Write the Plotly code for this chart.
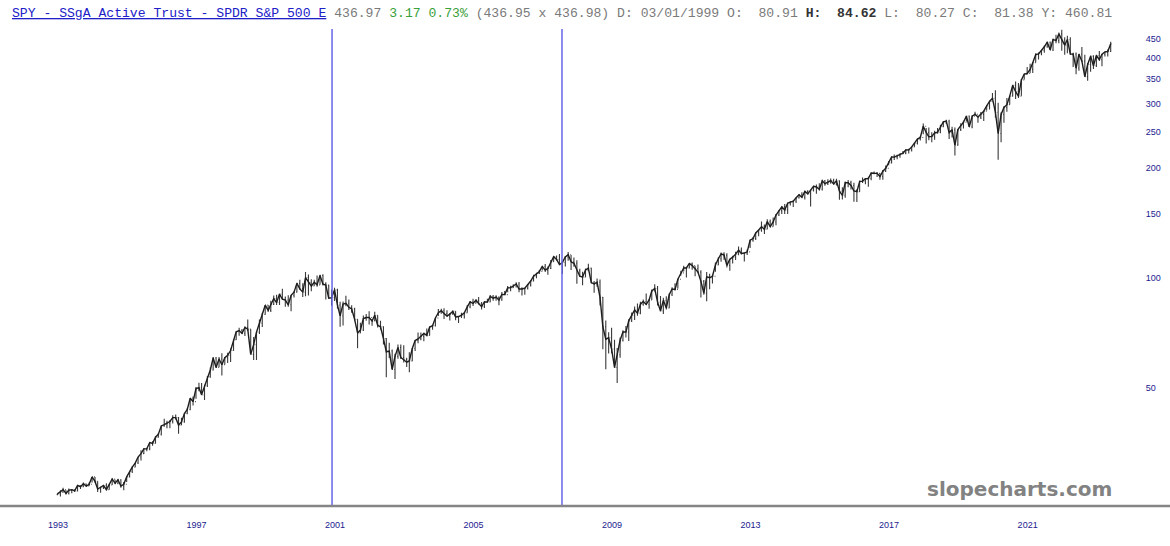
import pandas as pd
import plotly.graph_objects as go

# ---------------- data (monthly, dividend-adjusted SPY) ----------------
first_month = "1993-01"

close = [
    25.6, 25.9, 26.3, 25.7, 26.2, 26.3, 26.1, 27.0, 26.8, 27.3, 26.9, 27.2,
    28.5, 27.7, 26.4, 26.7, 27.0, 26.3, 27.1, 28.1, 27.4, 28.0, 26.9, 27.2,
    28.5, 29.5, 30.3, 31.1, 32.3, 33.0, 34.0, 34.0, 35.4, 35.2, 36.6, 37.3,
    39.3, 39.6, 39.9, 40.4, 41.4, 41.4, 39.5, 40.3, 42.5, 43.6, 46.8, 45.8,
    49.7, 50.0, 47.8, 50.6, 53.6, 55.9, 60.3, 56.8, 59.9, 57.8, 60.4, 61.3,
    63.2, 67.7, 71.1, 71.7, 70.4, 73.1, 72.3, 61.7, 65.6, 70.9, 75.1, 79.3,
    84.1, 81.4, 84.5, 87.7, 85.5, 90.2, 87.3, 86.8, 84.3, 89.5, 91.3, 96.5,
    93.2, 91.3, 100.1, 97.0, 94.9, 97.2, 95.6, 101.4, 96.0, 95.5, 87.9, 88.2,
    92.6, 84.1, 78.7, 84.7, 85.1, 83.0, 82.1, 76.9, 70.6, 71.9, 77.3, 77.8,
    77.8, 76.1, 78.9, 74.1, 73.4, 68.1, 62.7, 63.0, 56.1, 60.9, 64.4, 60.5,
    59.7, 58.7, 59.2, 64.0, 67.3, 68.0, 69.1, 70.4, 69.5, 73.3, 73.9, 77.6,
    80.2, 81.2, 79.8, 78.5, 79.5, 80.9, 78.1, 78.3, 79.0, 80.1, 83.2, 85.9,
    85.1, 86.7, 85.0, 83.3, 85.8, 85.8, 88.9, 87.9, 88.5, 86.9, 90.0, 89.9,
    93.8, 93.9, 94.9, 96.1, 93.1, 93.1, 93.6, 95.6, 97.9, 101.0, 102.7, 104.0,
    107.3, 104.9, 106.0, 110.6, 114.2, 112.2, 108.6, 110.0, 113.9, 115.6, 110.5, 109.5,
    104.5, 100.9, 100.3, 105.0, 106.2, 97.0, 96.1, 97.2, 88.4, 73.4, 67.9, 68.5,
    63.8, 56.8, 61.6, 67.4, 71.0, 71.0, 76.2, 78.8, 81.6, 80.0, 84.6, 86.1,
    84.5, 86.9, 92.0, 93.4, 85.7, 81.1, 86.7, 82.6, 89.8, 93.1, 92.9, 99.0,
    103.1, 106.4, 106.3, 109.4, 107.9, 105.9, 103.6, 97.8, 90.7, 100.5, 100.0, 100.9,
    108.3, 112.7, 116.2, 115.3, 108.1, 112.4, 113.8, 116.0, 118.9, 116.5, 116.8, 117.7,
    126.6, 128.0, 132.6, 135.0, 137.8, 135.7, 142.4, 138.0, 142.1, 148.4, 152.6, 156.2,
    153.3, 159.9, 161.0, 162.0, 165.4, 168.6, 166.0, 172.3, 169.6, 173.6, 177.8, 177.1,
    174.6, 184.1, 180.9, 182.5, 184.4, 180.5, 184.1, 172.6, 168.0, 181.9, 182.0, 178.8,
    172.7, 172.0, 183.3, 183.8, 186.6, 186.8, 193.5, 193.2, 193.0, 189.2, 195.7, 199.3,
    206.2, 213.9, 213.8, 215.8, 218.3, 219.3, 223.6, 223.7, 228.0, 233.1, 239.6, 242.0,
    259.8, 249.7, 243.0, 243.6, 248.9, 250.1, 259.1, 266.9, 268.1, 249.5, 253.9, 230.6,
    254.2, 261.7, 266.4, 276.9, 258.7, 276.5, 280.2, 275.1, 279.8, 285.5, 295.3, 303.7,
    309.6, 283.6, 248.1, 279.6, 292.3, 297.6, 314.0, 336.0, 322.8, 313.9, 347.7, 360.6,
    362.1, 371.6, 387.4, 407.7, 409.9, 419.0, 428.5, 441.0, 420.0, 449.0, 445.3, 464.7,
    447.0, 433.0, 448.5, 409.1, 409.1, 374.8, 408.9, 391.5, 355.0, 383.3, 403.9, 380.1,
    405.6, 395.0, 408.9, 414.9, 415.9, 436.97,
]

high = [
    25.7, 26.2, 26.6, 26.2, 26.5, 26.4, 26.2, 27.1, 27.0, 27.5, 27.3, 27.5,
    28.5, 28.5, 27.7, 26.8, 27.1, 27.4, 27.2, 28.2, 28.0, 28.1, 28.1, 27.6,
    28.5, 29.5, 30.5, 31.2, 32.3, 33.7, 34.2, 34.2, 35.5, 35.7, 36.8, 37.6,
    39.4, 41.1, 40.6, 40.8, 42.0, 42.2, 41.6, 41.4, 42.6, 43.9, 46.8, 47.3,
    50.2, 51.6, 51.5, 50.9, 53.8, 56.8, 60.7, 60.7, 60.7, 62.1, 60.7, 62.3,
    64.0, 67.9, 71.3, 73.0, 72.4, 73.5, 76.8, 72.3, 68.8, 71.1, 76.9, 80.2,
    84.1, 84.2, 86.5, 89.4, 89.8, 90.2, 93.3, 88.8, 89.5, 89.5, 91.8, 96.8,
    98.7, 96.5, 103.7, 102.1, 99.0, 98.7, 101.4, 101.9, 102.2, 97.1, 95.7, 92.9,
    93.8, 93.3, 86.0, 86.1, 89.2, 87.2, 84.0, 82.7, 77.0, 75.3, 78.8, 79.5,
    80.9, 77.1, 80.7, 78.9, 76.2, 73.6, 68.4, 66.4, 63.6, 61.9, 65.6, 65.6,
    65.3, 60.4, 62.5, 64.2, 67.4, 70.8, 70.8, 70.6, 72.6, 73.5, 74.3, 77.6,
    82.1, 82.2, 82.5, 81.5, 80.0, 81.3, 80.9, 78.6, 80.2, 80.2, 84.2, 86.3,
    87.6, 87.3, 88.5, 85.8, 86.4, 87.6, 89.6, 89.7, 89.5, 88.8, 91.4, 91.9,
    94.9, 95.1, 96.0, 97.2, 97.3, 94.2, 93.9, 96.1, 98.2, 101.9, 103.1, 105.0,
    107.5, 109.0, 107.3, 111.8, 114.4, 115.0, 116.1, 111.2, 114.7, 117.6, 115.3, 113.6,
    111.6, 105.8, 103.8, 105.9, 109.2, 106.5, 97.9, 99.5, 98.8, 88.5, 76.3, 70.9,
    72.9, 67.6, 64.2, 68.6, 71.8, 73.8, 77.0, 80.3, 83.4, 85.0, 85.9, 87.2,
    90.5, 87.5, 92.9, 96.0, 94.9, 89.1, 88.1, 88.9, 90.5, 94.1, 96.6, 99.4,
    104.5, 107.8, 106.9, 109.4, 110.0, 107.5, 108.7, 104.8, 98.6, 103.7, 102.5, 101.8,
    110.0, 113.7, 117.2, 117.3, 116.7, 112.4, 114.8, 117.7, 121.7, 120.9, 117.1, 119.5,
    127.1, 129.3, 132.7, 135.0, 142.6, 139.8, 144.5, 144.4, 146.2, 149.4, 153.3, 156.2,
    159.2, 160.6, 162.0, 162.6, 165.6, 169.2, 171.2, 172.4, 173.6, 173.6, 178.5, 180.0,
    181.3, 185.5, 185.0, 186.0, 186.7, 186.4, 186.6, 184.9, 176.8, 183.2, 185.2, 184.1,
    181.9, 174.7, 184.5, 188.0, 187.3, 188.8, 193.8, 195.3, 194.7, 193.1, 197.0, 202.7,
    208.2, 214.6, 217.3, 217.0, 218.9, 222.1, 224.8, 225.4, 228.1, 233.7, 240.5, 243.9,
    264.3, 256.7, 257.7, 250.1, 252.3, 256.8, 262.0, 268.4, 270.6, 270.5, 259.0, 257.6,
    254.6, 264.5, 268.9, 277.2, 277.8, 278.6, 284.6, 276.6, 284.1, 286.7, 296.5, 305.3,
    320.4, 325.7, 301.1, 283.7, 294.5, 310.4, 314.9, 337.4, 344.4, 340.8, 350.0, 361.0,
    377.3, 385.1, 389.4, 411.3, 413.2, 419.5, 431.9, 443.2, 443.2, 449.3, 462.5, 468.8,
    477.0, 454.9, 459.1, 454.7, 412.8, 413.6, 409.9, 428.2, 407.8, 386.7, 405.9, 406.0,
    407.5, 417.4, 408.9, 414.9, 421.0, 442.6,
]

low = [
    25.4, 25.2, 25.8, 25.5, 25.5, 25.7, 25.9, 26.0, 26.4, 26.7, 26.8, 26.9,
    27.5, 27.5, 25.9, 25.8, 26.4, 26.2, 26.3, 27.1, 27.2, 27.2, 26.6, 26.2,
    27.6, 28.4, 29.2, 30.3, 30.9, 31.6, 32.9, 33.5, 33.7, 34.7, 35.2, 36.5,
    37.0, 39.1, 38.7, 38.7, 39.9, 40.9, 37.4, 39.5, 40.1, 42.3, 43.4, 44.7,
    46.6, 48.9, 47.8, 46.3, 50.2, 53.2, 55.7, 56.8, 56.9, 54.0, 57.9, 58.4,
    58.8, 63.1, 67.5, 69.4, 70.2, 69.3, 71.5, 61.7, 59.5, 59.5, 70.1, 73.3,
    79.2, 80.6, 80.6, 84.2, 84.2, 84.2, 87.1, 83.3, 83.3, 81.0, 88.2, 91.1,
    92.7, 88.5, 89.0, 89.4, 91.8, 94.9, 94.5, 95.6, 95.2, 87.2, 87.8, 83.8,
    86.4, 82.4, 73.4, 74.0, 83.5, 81.6, 80.2, 76.2, 64.1, 70.5, 71.5, 76.2,
    74.4, 73.9, 76.1, 73.1, 72.1, 65.6, 53.4, 60.3, 56.1, 52.8, 60.0, 59.9,
    58.6, 57.0, 55.1, 59.1, 63.0, 66.2, 67.4, 67.0, 69.1, 69.5, 72.0, 73.5,
    78.6, 79.7, 77.1, 78.5, 76.3, 79.3, 76.5, 75.2, 77.6, 77.3, 80.2, 82.5,
    83.7, 85.0, 84.4, 81.9, 82.6, 85.5, 85.7, 86.5, 86.5, 84.1, 86.5, 89.7,
    91.3, 91.8, 93.7, 94.0, 91.3, 89.4, 89.8, 92.8, 94.6, 97.6, 99.7, 102.3,
    104.7, 103.7, 101.8, 105.6, 110.6, 111.2, 108.5, 102.3, 107.3, 111.2, 105.0, 107.1,
    96.3, 100.4, 95.3, 100.4, 104.1, 96.4, 91.0, 94.5, 83.9, 63.7, 56.2, 62.0,
    62.1, 56.7, 51.5, 60.4, 66.9, 68.6, 67.1, 75.6, 76.6, 78.7, 79.4, 83.8,
    84.3, 82.2, 87.0, 92.1, 83.9, 81.0, 79.6, 81.8, 82.5, 89.1, 92.3, 93.4,
    101.2, 103.9, 100.2, 106.0, 105.1, 100.9, 102.8, 88.3, 89.8, 86.2, 93.0, 96.4,
    103.8, 108.2, 110.6, 112.0, 106.6, 104.5, 109.3, 111.8, 115.2, 115.7, 110.8, 115.3,
    120.5, 125.5, 126.8, 129.9, 133.6, 131.8, 135.6, 137.6, 138.0, 139.1, 147.5, 149.4,
    149.4, 149.5, 157.7, 156.1, 160.1, 164.7, 166.0, 163.8, 168.9, 156.6, 172.1, 169.7,
    173.3, 173.3, 178.5, 179.2, 180.9, 179.9, 178.9, 163.4, 163.8, 165.6, 176.7, 174.4,
    161.3, 161.1, 172.0, 181.6, 180.2, 177.3, 184.7, 192.0, 188.7, 185.5, 185.5, 194.6,
    203.2, 205.5, 210.1, 210.8, 212.9, 217.7, 217.8, 218.8, 221.5, 228.2, 231.4, 237.5,
    246.8, 233.0, 237.8, 234.9, 238.6, 247.7, 248.3, 257.9, 263.5, 239.6, 242.1, 215.9,
    229.7, 252.0, 255.9, 267.7, 258.5, 256.4, 277.6, 265.3, 271.8, 268.4, 286.7, 288.6,
    308.5, 274.1, 210.4, 234.9, 265.6, 284.7, 297.7, 313.0, 308.1, 310.5, 314.8, 348.8,
    360.2, 363.2, 363.0, 387.9, 395.5, 406.1, 412.7, 425.9, 419.7, 417.2, 438.3, 438.4,
    418.1, 407.4, 411.5, 408.3, 377.3, 360.1, 368.7, 390.4, 354.8, 345.7, 366.2, 372.6,
    377.5, 392.3, 379.0, 402.9, 402.8, 414.6,
]
first_open = 25.5

year_ticks = ["1993", "1997", "2001", "2005", "2009", "2013", "2017", "2021"]
price_ticks = [50, 100, 150, 200, 250, 300, 350, 400, 450]
marker_dates = ["2000-12-20", "2007-08-11"]

header_name = "SPY - SSgA Active Trust - SPDR S&amp;P 500 E"
header_last = "436.97"
header_chg = "3.17 0.73%"
header_mid = "(436.95 x 436.98) D: 03/01/1999 O:\u00a0\u00a080.91"
header_hi = "H:\u00a0\u00a084.62"
header_rest = "L:\u00a0\u00a080.27 C:\u00a0\u00a081.38 Y: 460.81"
watermark = "slopecharts.com"

# ---------------- figure ----------------
dates = pd.date_range(first_month + "-01", periods=len(close), freq="MS") + pd.Timedelta(days=14)
opens = [first_open] + close[:-1]

W, H = 1170, 546
ML, MR, MT, MB = 0, 30, 29, 40
plot_w = W - ML - MR

fig = go.Figure()
fig.add_trace(go.Ohlc(
    x=dates, open=opens, high=high, low=low, close=close,
    increasing_line_color="#3a3a3a", decreasing_line_color="#3a3a3a",
    line_width=1.1, tickwidth=0.3, showlegend=False, hoverinfo="skip",
))
fig.add_trace(go.Scatter(
    x=dates, y=close, mode="lines", line=dict(color="#1e1e1e", width=1.4),
    showlegend=False, hoverinfo="skip",
))

for d in marker_dates:
    fig.add_shape(type="line", x0=d, x1=d, xref="x", y0=0, y1=1, yref="paper",
                  line=dict(color="#6666e8", width=1.5), layer="above")

# bottom axis line spanning full width
fig.add_shape(type="line", x0=0, x1=W / plot_w, xref="paper", y0=0, y1=0, yref="paper",
              line=dict(color="#858585", width=2.5), layer="above")

header = (
    f'<span style="color:#2020c8"><u>{header_name}</u></span> '
    f'<span style="color:#7a7a7a">{header_last}</span> '
    f'<span style="color:#3aa03a">{header_chg}</span> '
    f'<span style="color:#7a7a7a">{header_mid}</span> '
    f'<span style="color:#333333"><b>{header_hi}</b></span> '
    f'<span style="color:#7a7a7a">{header_rest}</span>'
)
fig.add_annotation(text=header, xref="paper", yref="paper", x=10 / plot_w, y=1 + (29 - 13) / (H - MT - MB),
                   xanchor="left", yanchor="middle", showarrow=False,
                   font=dict(family="Liberation Mono, Courier New, monospace", size=13.1, color="#7a7a7a"))

fig.add_annotation(text=f"<b>{watermark}</b>", xref="paper", yref="paper",
                   x=1019 / plot_w, y=(506 - 489) / (H - MT - MB), xanchor="center", yanchor="middle",
                   showarrow=False, font=dict(family="Verdana, DejaVu Sans, sans-serif", size=20, color="#828282"))

fig.update_layout(
    width=W, height=H,
    margin=dict(l=ML, r=MR, t=MT, b=MB, pad=0),
    paper_bgcolor="white", plot_bgcolor="white",
    showlegend=False,
    xaxis=dict(
        type="date", range=["1991-05-20", "2024-04-19"],
        rangeslider=dict(visible=False),
        tickvals=[f"{y}-01-20" for y in year_ticks], ticktext=year_ticks,
        ticks="outside", ticklen=10, tickcolor="rgba(0,0,0,0)",
        tickfont=dict(family="Liberation Sans, Arial, sans-serif", size=9, color="#1a1a90"),
        showgrid=False, zeroline=False, showline=False,
    ),
    yaxis=dict(
        type="log", side="right",
        range=[1.3752, 2.6806],
        tickvals=price_ticks, ticktext=[str(v) for v in price_ticks],
        ticks="outside", ticklen=3, tickcolor="rgba(0,0,0,0)",
        tickfont=dict(family="Liberation Sans, Arial, sans-serif", size=9, color="#1a1a90"),
        showgrid=False, zeroline=False, showline=False,
    ),
)

fig.write_html("out.html")
